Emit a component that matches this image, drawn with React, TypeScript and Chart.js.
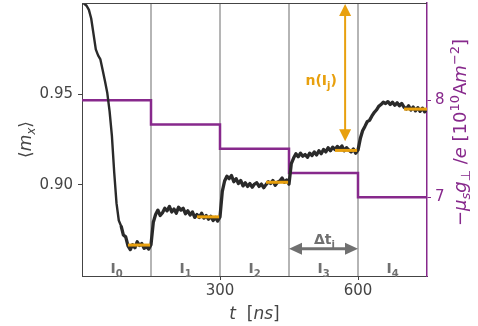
import React, { useEffect, useRef } from "react";
import { Chart, registerables } from "chart.js";
Chart.register(...registerables);

const times = [
  0, 5, 10, 15, 20, 25, 30, 35, 40, 45, 50, 55, 60, 65, 70, 75, 80, 85, 90, 95,
  100, 105, 110, 115, 120, 125, 130, 135, 140, 145, 150, 155, 160, 165, 170, 175, 180, 185, 190, 195,
  200, 205, 210, 215, 220, 225, 230, 235, 240, 245, 250, 255, 260, 265, 270, 275, 280, 285, 290, 295,
  300, 305, 310, 315, 320, 325, 330, 335, 340, 345, 350, 355, 360, 365, 370, 375, 380, 385, 390, 395,
  400, 405, 410, 415, 420, 425, 430, 435, 440, 445, 450, 455, 460, 465, 470, 475, 480, 485, 490, 495,
  500, 505, 510, 515, 520, 525, 530, 535, 540, 545, 550, 555, 560, 565, 570, 575, 580, 585, 590, 595,
  600, 605, 610, 615, 620, 625, 630, 635, 640, 645, 650, 655, 660, 665, 670, 675, 680, 685, 690, 695,
  700, 705, 710, 715, 720, 725, 730, 735, 740, 745, 750,
];

const mx = [
  1.0, 0.9996, 0.9985, 0.9962, 0.9915, 0.983, 0.9745, 0.9712, 0.969, 0.963, 0.957, 0.9505, 0.9405, 0.927, 0.907, 0.89,
  0.8805, 0.8775, 0.8725, 0.8715, 0.8665, 0.8645, 0.8672, 0.8655, 0.8688, 0.8668, 0.8678, 0.8652, 0.8662, 0.8648, 0.8672,
  0.8795, 0.8838, 0.8862, 0.8832, 0.8848, 0.8872, 0.8858, 0.8882, 0.8852, 0.8868, 0.8845, 0.8878, 0.8862, 0.8872, 0.8842,
  0.8858, 0.8835, 0.8852, 0.8822, 0.8838, 0.8822, 0.8845, 0.8818, 0.8832, 0.8812, 0.8828, 0.8805, 0.8822, 0.8802, 0.8825,
  0.8965, 0.9022, 0.9048, 0.9035, 0.9052, 0.9018, 0.9035, 0.9008, 0.9025, 0.8995, 0.9012, 0.8992, 0.9008, 0.8988, 0.9005,
  0.9012, 0.8992, 0.9005, 0.8985, 0.9002, 0.9018, 0.9008, 0.9025, 0.8998, 0.9015, 0.9022, 0.9038, 0.9015, 0.9028, 0.9005,
  0.9118, 0.9148, 0.9172, 0.9155, 0.9175, 0.9158, 0.9168, 0.9152, 0.9175, 0.9162, 0.9182, 0.9165, 0.9188, 0.9172, 0.9195,
  0.9182, 0.9205, 0.9188, 0.9208, 0.9195, 0.9212, 0.9198, 0.9215, 0.9188, 0.9205, 0.9192, 0.9182, 0.9198, 0.9175, 0.9192,
  0.9255, 0.9298, 0.9322, 0.9348, 0.9355, 0.9378, 0.9398, 0.9412, 0.9432, 0.9442, 0.9455, 0.9448, 0.9458, 0.9442, 0.9455,
  0.9438, 0.9452, 0.9435, 0.9448, 0.9428, 0.9418, 0.9435, 0.9412, 0.9428, 0.9408, 0.9425, 0.9405, 0.9422, 0.9402, 0.9418,
];

const smoothUntil = 17; // index of last point of the smooth decay part
const stepStarts = [0, 150, 300, 450, 600, 750];
const currentDensity = [8.0, 7.75, 7.5, 7.25, 7.0, 7.0];
const intervalBounds = [150, 300, 450, 600];
const plateauStarts = [100, 250, 400, 550, 700];
const plateauEnds = [148, 298, 448, 598, 750];
const plateauValues = [0.867, 0.8825, 0.9015, 0.919, 0.9417];
const intervalSubs = ["0", "1", "2", "3", "4"];
const intervalCenters = [75, 225, 375, 525, 675];
const xTicks = [300, 600];
const yTicks = [0.9, 0.95];
const y1Ticks = [7, 8];

const FAMILY = "'DejaVu Sans', sans-serif";
const PURPLE = "#87298c";
const ORANGE = "#e8a00e";
const GRAY = "#707070";
const AXIS = "#444444";
const CURVE = "#2a2a2a";

type Part = { t: string; style?: string; size: number; dy?: number };

function drawRich(ctx: CanvasRenderingContext2D, parts: Part[], cx: number, cy: number, rot: number, color: string) {
  ctx.save();
  ctx.translate(cx, cy);
  ctx.rotate(rot);
  ctx.fillStyle = color;
  ctx.textAlign = "left";
  ctx.textBaseline = "alphabetic";
  let total = 0;
  const widths = parts.map((p) => {
    ctx.font = `${p.style || ""} ${p.size}px ${FAMILY}`;
    const w = ctx.measureText(p.t).width;
    total += w;
    return w;
  });
  let x = -total / 2;
  parts.forEach((p, i) => {
    ctx.font = `${p.style || ""} ${p.size}px ${FAMILY}`;
    ctx.fillText(p.t, x, p.dy || 0);
    x += widths[i];
  });
  ctx.restore();
}

const annotPlugin = {
  id: "annot",
  afterDatasetsDraw(chart: any) {
    const ctx: CanvasRenderingContext2D = chart.ctx;
    const xs = chart.scales.x;
    const ys = chart.scales.y;
    const ca = chart.chartArea;
    ctx.save();
    ctx.strokeStyle = AXIS;
    ctx.lineWidth = 1;
    ctx.beginPath();
    ctx.moveTo(ca.left, ca.top + 0.5);
    ctx.lineTo(ca.right, ca.top + 0.5);
    ctx.stroke();

    // orange double arrow
    const ax = xs.getPixelForValue(572);
    const ay1 = ys.getPixelForValue(0.9995);
    const ay2 = ys.getPixelForValue(0.924);
    ctx.strokeStyle = ORANGE;
    ctx.fillStyle = ORANGE;
    ctx.lineWidth = 2;
    ctx.beginPath();
    ctx.moveTo(ax, ay1 + 10);
    ctx.lineTo(ax, ay2 - 10);
    ctx.stroke();
    ctx.beginPath();
    ctx.moveTo(ax, ay1);
    ctx.lineTo(ax - 6, ay1 + 12);
    ctx.lineTo(ax + 6, ay1 + 12);
    ctx.closePath();
    ctx.fill();
    ctx.beginPath();
    ctx.moveTo(ax, ay2);
    ctx.lineTo(ax - 6, ay2 - 12);
    ctx.lineTo(ax + 6, ay2 - 12);
    ctx.closePath();
    ctx.fill();

    // gray horizontal double arrow
    const gy = ys.getPixelForValue(0.865);
    const gx1 = xs.getPixelForValue(450);
    const gx2 = xs.getPixelForValue(600);
    ctx.strokeStyle = GRAY;
    ctx.fillStyle = GRAY;
    ctx.lineWidth = 3;
    ctx.beginPath();
    ctx.moveTo(gx1 + 10, gy);
    ctx.lineTo(gx2 - 10, gy);
    ctx.stroke();
    ctx.beginPath();
    ctx.moveTo(gx1, gy);
    ctx.lineTo(gx1 + 13, gy - 6);
    ctx.lineTo(gx1 + 13, gy + 6);
    ctx.closePath();
    ctx.fill();
    ctx.beginPath();
    ctx.moveTo(gx2, gy);
    ctx.lineTo(gx2 - 13, gy - 6);
    ctx.lineTo(gx2 - 13, gy + 6);
    ctx.closePath();
    ctx.fill();
    ctx.restore();

    drawRich(
      ctx,
      [
        { t: "n(I", style: "bold", size: 14 },
        { t: "j", style: "bold", size: 10, dy: 4 },
        { t: ")", style: "bold", size: 14 },
      ],
      xs.getPixelForValue(520),
      ys.getPixelForValue(0.9577) + 5,
      0,
      ORANGE
    );
    drawRich(
      ctx,
      [
        { t: "Δt", style: "bold", size: 14 },
        { t: "j", style: "bold", size: 10, dy: 4 },
      ],
      xs.getPixelForValue(527),
      ys.getPixelForValue(0.8705) + 5,
      0,
      GRAY
    );
    intervalCenters.forEach((c, i) => {
      drawRich(
        ctx,
        [
          { t: "I", style: "bold", size: 14 },
          { t: intervalSubs[i], style: "bold", size: 10, dy: 4 },
        ],
        xs.getPixelForValue(c),
        ys.getPixelForValue(0.8545) + 5,
        0,
        GRAY
      );
    });

    drawRich(
      ctx,
      [
        { t: "⟨", size: 17 },
        { t: "m", style: "italic", size: 17 },
        { t: "x", style: "italic", size: 12, dy: 4 },
        { t: "⟩", size: 17 },
      ],
      31,
      (ca.top + ca.bottom) / 2,
      -Math.PI / 2,
      AXIS
    );
    drawRich(
      ctx,
      [
        { t: "t", style: "italic", size: 17 },
        { t: "  [", size: 17 },
        { t: "ns", style: "italic", size: 17 },
        { t: "]", size: 17 },
      ],
      (ca.left + ca.right) / 2,
      319,
      0,
      AXIS
    );
    drawRich(
      ctx,
      [
        { t: "−", size: 18 },
        { t: "μ", style: "italic", size: 18 },
        { t: "s", style: "italic", size: 13, dy: 4 },
        { t: "g", style: "italic", size: 18 },
        { t: "⊥", size: 13, dy: 4 },
        { t: " /", size: 18 },
        { t: "e", style: "italic", size: 18 },
        { t: " [10", size: 18 },
        { t: "10", size: 13, dy: -7 },
        { t: "A", size: 18 },
        { t: "m", style: "italic", size: 18 },
        { t: "−2", size: 13, dy: -7 },
        { t: "]", size: 18 },
      ],
      466,
      (ca.top + ca.bottom) / 2 - 7,
      -Math.PI / 2,
      PURPLE
    );
  },
};

function noPad(s: any) {
  s.paddingTop = 0;
  s.paddingBottom = 0;
  s.paddingLeft = 0;
  s.paddingRight = 0;
}

export default function App() {
  const ref = useRef<HTMLCanvasElement | null>(null);
  useEffect(() => {
    if (!ref.current) return;
    const pts = times.map((t, i) => ({ x: t, y: mx[i] }));
    const datasets: any[] = [];
    plateauValues.forEach((v, i) => {
      datasets.push({
        data: [
          { x: plateauStarts[i], y: v },
          { x: plateauEnds[i], y: v },
        ],
        borderColor: ORANGE,
        borderWidth: 3,
        pointRadius: 0,
        yAxisID: "y",
        order: 0,
      });
    });
    datasets.push({
      data: pts.slice(smoothUntil),
      borderColor: CURVE,
      borderWidth: 3.3,
      borderJoinStyle: "round",
      borderCapStyle: "butt",
      pointRadius: 0,
      yAxisID: "y",
      order: 1,
    });
    datasets.push({
      data: pts.slice(0, smoothUntil + 1),
      borderColor: CURVE,
      borderWidth: 2.4,
      borderJoinStyle: "round",
      borderCapStyle: "round",
      pointRadius: 0,
      yAxisID: "y",
      order: 1,
    });
    datasets.push({
      data: stepStarts.map((t, i) => ({ x: t, y: currentDensity[i] })),
      borderColor: PURPLE,
      borderWidth: 2.5,
      pointRadius: 0,
      stepped: "before",
      yAxisID: "y1",
      order: 2,
    });
    intervalBounds.forEach((b) => {
      datasets.push({
        data: [
          { x: b, y: 0.85 },
          { x: b, y: 1.0 },
        ],
        borderColor: "#b5b5b5",
        borderWidth: 2,
        pointRadius: 0,
        yAxisID: "y",
        order: 3,
      });
    });

    const tickFont = { family: FAMILY, size: 15 };
    const chart = new Chart(ref.current, {
      type: "line",
      data: { datasets },
      plugins: [annotPlugin],
      options: {
        animation: false,
        responsive: false,
        events: [],
        layout: { padding: { top: 3, left: 0, right: 0, bottom: 0 } },
        plugins: { legend: { display: false }, tooltip: { enabled: false } },
        scales: {
          x: {
            type: "linear",
            min: 0,
            max: 750,
            position: "bottom",
            afterBuildTicks: (s: any) => {
              s.ticks = xTicks.map((v) => ({ value: v }));
            },
            afterFit: (s: any) => {
              s.height = 50;
              noPad(s);
            },
            grid: { drawOnChartArea: false, drawTicks: true, tickLength: 4, color: AXIS },
            border: { color: AXIS, width: 1 },
            ticks: { font: tickFont, color: AXIS, padding: 2, maxRotation: 0, callback: (v: any) => String(v) },
          },
          y: {
            type: "linear",
            min: 0.85,
            max: 1.0,
            position: "left",
            afterBuildTicks: (s: any) => {
              s.ticks = yTicks.map((v) => ({ value: v }));
            },
            afterFit: (s: any) => {
              s.width = 82;
              noPad(s);
            },
            grid: { drawOnChartArea: false, drawTicks: true, tickLength: 4, color: AXIS },
            border: { color: AXIS, width: 1 },
            ticks: { font: tickFont, color: AXIS, padding: 5, callback: (v: any) => Number(v).toFixed(2) },
          },
          y1: {
            type: "linear",
            min: 6.19,
            max: 9.0,
            position: "right",
            afterBuildTicks: (s: any) => {
              s.ticks = y1Ticks.map((v) => ({ value: v }));
            },
            afterFit: (s: any) => {
              s.width = 51;
              noPad(s);
            },
            grid: { drawOnChartArea: false, drawTicks: true, tickLength: 4, color: PURPLE },
            border: { color: PURPLE, width: 1.5 },
            ticks: { font: tickFont, color: PURPLE, padding: 4, callback: (v: any) => String(v) },
          },
        },
      } as any,
    });
    return () => chart.destroy();
  }, []);
  return (
    <div style={{ position: "fixed", left: 0, top: 0, width: 478, height: 326, background: "#fff" }}>
      <canvas ref={ref} width={478} height={326} style={{ width: 478, height: 326 }} />
    </div>
  );
}
